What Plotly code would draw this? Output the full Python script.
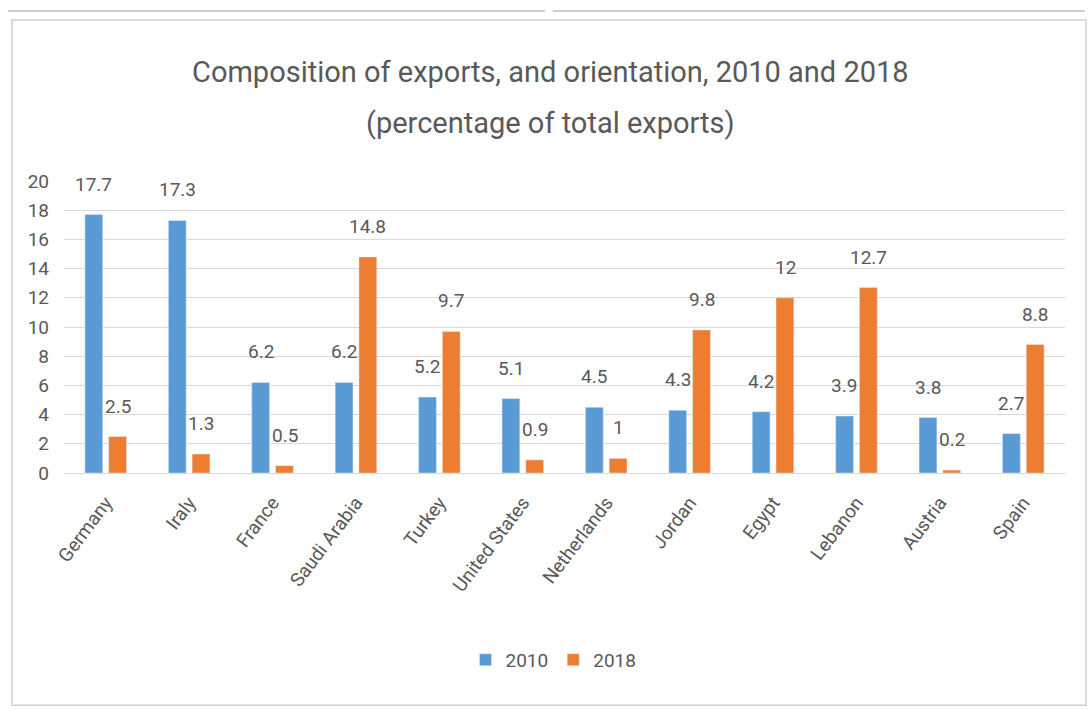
import plotly.graph_objects as go

countries = ["Germany", "Iraly", "France", "Saudi Arabia", "Turkey", "United States",
             "Netherlands", "Jordan", "Egypt", "Lebanon", "Austria", "Spain"]
exports_2010 = [17.7, 17.3, 6.2, 6.2, 5.2, 5.1, 4.5, 4.3, 4.2, 3.9, 3.8, 2.7]
exports_2018 = [2.5, 1.3, 0.5, 14.8, 9.7, 0.9, 1, 9.8, 12, 12.7, 0.2, 8.8]
y_ticks = [0, 2, 4, 6, 8, 10, 12, 14, 16, 18, 20]

FONT = "Roboto, 'Open Sans', sans-serif"
GREY = "#595959"
BLUE = "#5b9bd5"
ORANGE = "#ed7d31"

fig = go.Figure()
fig.add_trace(go.Bar(name="2010", x=countries, y=exports_2010, marker_color=BLUE))
fig.add_trace(go.Bar(name="2018", x=countries, y=exports_2018, marker_color=ORANGE))

# value labels sitting above each bar
annotations = []
for series, shift in ((exports_2010, -12), (exports_2018, 12)):
    for c, v in zip(countries, series):
        annotations.append(dict(
            x=c, y=v, xref="x", yref="y", text=f"{v:g}", showarrow=False,
            xshift=shift, yshift=17, yanchor="bottom",
            font=dict(family=FONT, size=19, color=GREY),
        ))

# two-line chart title
annotations.append(dict(
    x=0.4865, y=1.373, xref="paper", yref="paper", yanchor="middle",
    text="Composition of exports, and orientation, 2010 and 2018",
    showarrow=False, font=dict(family=FONT, size=29, color=GREY),
))
annotations.append(dict(
    x=0.4865, y=1.20, xref="paper", yref="paper", yanchor="middle",
    text="(percentage of total exports)",
    showarrow=False, font=dict(family=FONT, size=29, color=GREY),
))

FRAME = "#cfcfcf"
shapes = [
    # chart frame
    dict(type="rect", xref="paper", yref="paper",
         x0=-0.052, x1=1.021, y0=-0.795, y1=1.551,
         line=dict(color=FRAME, width=1.5), fillcolor="rgba(0,0,0,0)", layer="below"),
    # top edge of the sheet above the frame
    dict(type="line", xref="paper", yref="paper", x0=-0.056, x1=0.4805, y0=1.582, y1=1.582,
         line=dict(color=FRAME, width=2)),
    dict(type="line", xref="paper", yref="paper", x0=0.4885, x1=1.02, y0=1.582, y1=1.582,
         line=dict(color=FRAME, width=2)),
]

fig.update_layout(
    width=1092, height=710,
    margin=dict(l=64, r=27, t=181, b=237),
    paper_bgcolor="white", plot_bgcolor="white",
    barmode="group", bargap=0.43, bargroupgap=0.25,
    font=dict(family=FONT, color=GREY),
    showlegend=True,
    legend=dict(orientation="h", x=0.489, y=-0.64, xanchor="center", yanchor="middle",
                font=dict(family=FONT, size=19, color=GREY), itemwidth=30,
                traceorder="normal"),
    annotations=annotations,
    shapes=shapes,
    xaxis=dict(
        tickangle=-53, tickfont=dict(family=FONT, size=19, color=GREY),
        showline=True, linecolor="#d9d9d9", linewidth=1, ticks="",
        ticklabelstandoff=10,
    ),
    yaxis=dict(
        range=[0, 20], tickvals=y_ticks, showgrid=True, gridcolor="#d9d9d9", gridwidth=1,
        zeroline=False, showline=False, ticks="",
        tickfont=dict(family=FONT, size=19, color=GREY), ticklabelstandoff=14,
    ),
)

fig.write_html("out.html")
